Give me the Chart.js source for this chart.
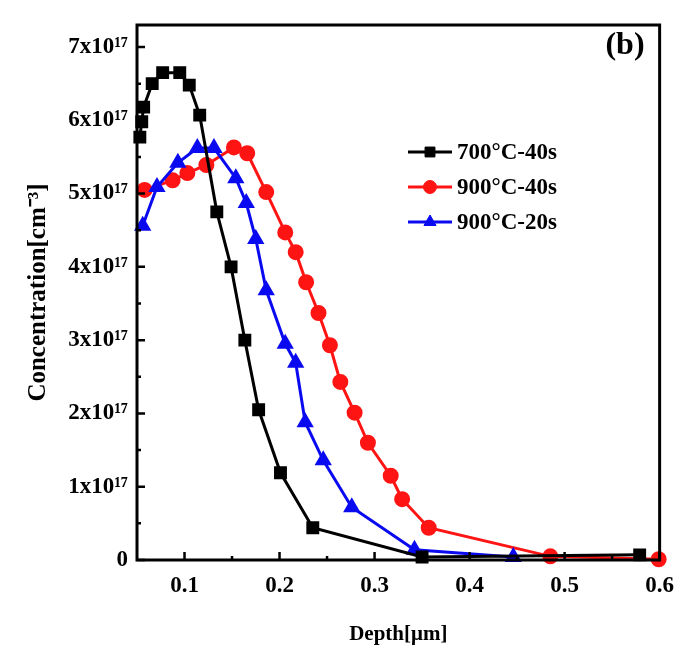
<!DOCTYPE html>
<html>
<head>
<meta charset="utf-8">
<script src="https://cdn.jsdelivr.net/npm/chart.js@4.4.0/dist/chart.umd.min.js"></script>
<style>
  html, body { margin: 0; padding: 0; background: #fff; }
  #wrap { width: 686px; height: 657px; }
</style>
</head>
<body>
<div id="wrap"><canvas id="chart" width="686" height="657"></canvas></div>
<script>
// depth in um, concentration in units of 1x10^17 cm^-3
const seriesNames = ['700°C-40s', '900°C-40s', '900°C-20s'];

const depth700_40 = [0.053, 0.055, 0.057, 0.066, 0.077, 0.095, 0.105, 0.116, 0.134, 0.149, 0.1635, 0.178, 0.201, 0.235, 0.35, 0.579];
const conc700_40  = [5.77, 5.98, 6.18, 6.5, 6.65, 6.65, 6.48, 6.07, 4.75, 4.0, 3.0, 2.05, 1.19, 0.44, 0.04, 0.07];

const depth900_40 = [0.058, 0.0875, 0.103, 0.123, 0.152, 0.166, 0.186, 0.206, 0.217, 0.228, 0.241, 0.253, 0.264, 0.279, 0.293, 0.317, 0.329, 0.357, 0.485, 0.599];
const conc900_40  = [5.05, 5.18, 5.28, 5.39, 5.63, 5.55, 5.02, 4.47, 4.2, 3.79, 3.37, 2.93, 2.43, 2.01, 1.6, 1.15, 0.83, 0.44, 0.05, 0.01];

const depth900_20 = [0.056, 0.071, 0.093, 0.1135, 0.131, 0.154, 0.165, 0.175, 0.186, 0.206, 0.217, 0.227, 0.246, 0.276, 0.342, 0.446];
const conc900_20  = [4.56, 5.09, 5.42, 5.62, 5.62, 5.21, 4.87, 4.38, 3.68, 2.95, 2.69, 1.88, 1.36, 0.72, 0.14, 0.04];

const xTicks = [0.1, 0.2, 0.3, 0.4, 0.5, 0.6];
const xTickLabels = ['0.1', '0.2', '0.3', '0.4', '0.5', '0.6'];
const xMinorTicks = [0.15, 0.25, 0.35, 0.45, 0.55];
const yTicks = [0, 1, 2, 3, 4, 5, 6, 7];
const yTickLabels = ['0', '1x10¹⁷', '2x10¹⁷', '3x10¹⁷', '4x10¹⁷', '5x10¹⁷', '6x10¹⁷', '7x10¹⁷'];
const yMinorTicks = [0.5, 1.5, 2.5, 3.5, 4.5, 5.5, 6.5];

const serif = "'Liberation Serif', 'Times New Roman', serif";

function toPoints(xs, ys) {
  return xs.map((x, i) => ({ x: x, y: ys[i] }));
}

const frameAndLegend = {
  id: 'frameAndLegend',
  afterDraw(chart) {
    const ctx = chart.ctx;
    const area = chart.chartArea;
    const xs = chart.scales.x;
    const ys = chart.scales.y;
    ctx.save();
    ctx.strokeStyle = '#000';

    // inward ticks
    ctx.lineWidth = 2.5;
    ctx.beginPath();
    xTicks.forEach(v => {
      const px = xs.getPixelForValue(v);
      ctx.moveTo(px, area.bottom); ctx.lineTo(px, area.bottom - 8);
    });
    xMinorTicks.forEach(v => {
      const px = xs.getPixelForValue(v);
      ctx.moveTo(px, area.bottom); ctx.lineTo(px, area.bottom - 4);
    });
    yTicks.forEach(v => {
      const py = ys.getPixelForValue(v);
      ctx.moveTo(area.left, py); ctx.lineTo(area.left + 8, py);
    });
    yMinorTicks.forEach(v => {
      const py = ys.getPixelForValue(v);
      ctx.moveTo(area.left, py); ctx.lineTo(area.left + 4, py);
    });
    ctx.stroke();

    // box
    ctx.lineWidth = 3;
    ctx.strokeRect(area.left, area.top, area.right - area.left, area.bottom - area.top);

    // legend
    const rows = [152, 187, 222];
    ctx.font = 'bold 23px ' + serif;
    ctx.textAlign = 'left';
    ctx.textBaseline = 'middle';
    chart.data.datasets.forEach((ds, i) => {
      const y = rows[i];
      ctx.strokeStyle = ds.borderColor;
      ctx.fillStyle = ds.backgroundColor;
      ctx.lineWidth = 3;
      ctx.beginPath();
      ctx.moveTo(408, y); ctx.lineTo(452, y);
      ctx.stroke();
      ctx.lineWidth = 1;
      Chart.helpers.drawPoint(ctx, {
        pointStyle: ds.pointStyle, radius: ds.pointRadius, borderWidth: 1
      }, 430, y);
      ctx.fillStyle = '#000';
      ctx.fillText(seriesNames[i], 457, y + 1);
    });

    // panel label
    ctx.fillStyle = '#000';
    ctx.font = 'bold 32px ' + serif;
    ctx.textAlign = 'center';
    ctx.fillText('(b)', 625, 46);
    ctx.restore();
  }
};

const ctx = document.getElementById('chart').getContext('2d');

const chart = new Chart(ctx, {
  type: 'scatter',
  data: {
    datasets: [
      {
        label: seriesNames[0],
        data: toPoints(depth700_40, conc700_40),
        showLine: true,
        borderColor: '#000000',
        backgroundColor: '#000000',
        pointBackgroundColor: '#000000',
        pointBorderColor: '#000000',
        borderWidth: 3,
        pointStyle: 'rect',
        pointRadius: 7,
        order: 1,
        clip: false
      },
      {
        label: seriesNames[1],
        data: toPoints(depth900_40, conc900_40),
        showLine: true,
        borderColor: '#ff1414',
        backgroundColor: '#ff1414',
        pointBackgroundColor: '#ff1414',
        pointBorderColor: '#ff1414',
        borderWidth: 3,
        pointStyle: 'circle',
        pointRadius: 6.5,
        order: 3,
        clip: false
      },
      {
        label: seriesNames[2],
        data: toPoints(depth900_20, conc900_20),
        showLine: true,
        borderColor: '#0a0af0',
        backgroundColor: '#0a0af0',
        pointBackgroundColor: '#0a0af0',
        pointBorderColor: '#0a0af0',
        borderWidth: 3,
        pointStyle: 'triangle',
        pointRadius: 7,
        order: 2,
        clip: false
      }
    ]
  },
  options: {
    responsive: false,
    animation: false,
    layout: { padding: { top: 25, right: 21, left: 0, bottom: 0 } },
    plugins: {
      legend: { display: false },
      tooltip: { enabled: false }
    },
    scales: {
      x: {
        type: 'linear',
        min: 0.05,
        max: 0.6,
        grid: { display: false, drawTicks: false },
        border: { display: false },
        afterBuildTicks: scale => { scale.ticks = xTicks.map(v => ({ value: v })); },
        afterFit: scale => { scale.height = 97; },
        ticks: {
          padding: 12,
          color: '#000',
          font: { family: serif, size: 23, weight: 'bold' },
          callback: (value, index) => xTickLabels[index]
        },
        title: {
          display: true,
          text: 'Depth[μm]',
          color: '#000',
          font: { family: serif, size: 21, weight: 'bold' },
          padding: { top: 0, bottom: 10 }
        }
      },
      y: {
        type: 'linear',
        min: 0,
        max: 7.3,
        grid: { display: false, drawTicks: false },
        border: { display: false },
        afterBuildTicks: scale => { scale.ticks = yTicks.map(v => ({ value: v })); },
        afterFit: scale => { scale.width = 137; },
        ticks: {
          padding: 9,
          color: '#000',
          font: { family: serif, size: 23, weight: 'bold' },
          callback: (value, index) => yTickLabels[index]
        },
        title: {
          display: true,
          text: 'Concentration[cm⁻³]',
          color: '#000',
          font: { family: serif, size: 25, weight: 'bold' },
          padding: { top: 24, bottom: 0 }
        }
      }
    }
  },
  plugins: [frameAndLegend]
});
</script>
</body>
</html>
